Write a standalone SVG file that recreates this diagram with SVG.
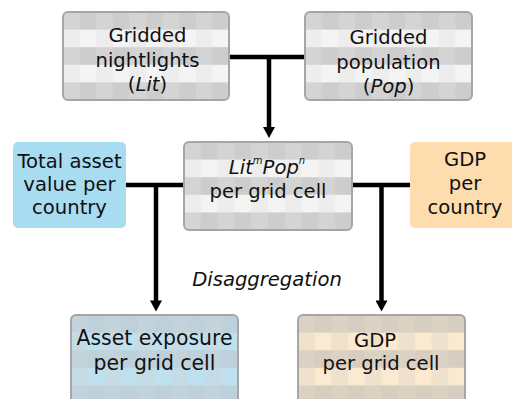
<svg xmlns="http://www.w3.org/2000/svg" width="512" height="399" viewBox="0 0 512 399">
<style>
text{font-family:"DejaVu Sans","Verdana",sans-serif;font-size:19.6px;fill:#111;text-anchor:middle}
.it{font-style:italic}
.big{font-size:20.4px}
.grid{stroke:#a6a6a6;stroke-width:2}
.conn{stroke:#000;stroke-width:4.5;fill:none}
</style>
<defs>
<pattern id="pg" patternUnits="objectBoundingBox" patternContentUnits="objectBoundingBox" width="0.2" height="0.4">
<rect x="0" y="0" width="0.1" height="0.2" fill="#d4d4d4"/>
<rect x="0.1" y="0" width="0.1" height="0.2" fill="#cdcdcd"/>
<rect x="0" y="0.2" width="0.1" height="0.2" fill="#ededed"/>
<rect x="0.1" y="0.2" width="0.1" height="0.2" fill="#f4f4f4"/>
</pattern>
<pattern id="pb" patternUnits="objectBoundingBox" patternContentUnits="objectBoundingBox" width="0.2" height="0.4">
<rect x="0" y="0" width="0.1" height="0.2" fill="#c3d3dc"/>
<rect x="0.1" y="0" width="0.1" height="0.2" fill="#bed0da"/>
<rect x="0" y="0.2" width="0.1" height="0.2" fill="#c5dce7"/>
<rect x="0.1" y="0.2" width="0.1" height="0.2" fill="#bfe0ef"/>
</pattern>
<pattern id="po" patternUnits="objectBoundingBox" patternContentUnits="objectBoundingBox" width="0.2" height="0.4">
<rect x="0" y="0" width="0.1" height="0.2" fill="#dcd2c4"/>
<rect x="0.1" y="0" width="0.1" height="0.2" fill="#d7cdc0"/>
<rect x="0" y="0.2" width="0.1" height="0.2" fill="#efe1cb"/>
<rect x="0.1" y="0.2" width="0.1" height="0.2" fill="#fbe9d0"/>
</pattern>
<marker id="ah" markerUnits="userSpaceOnUse" markerWidth="12" markerHeight="12" refX="0.5" refY="6" orient="auto" viewBox="0 0 11 12">
<path d="M0,0 L11,6 L0,12 Z" fill="#000"/>
</marker>
</defs>
<g id="connectors">
<line class="conn" x1="229" y1="57" x2="305" y2="57"/>
<line class="conn" x1="269" y1="57" x2="269" y2="127.5" marker-end="url(#ah)"/>
<line class="conn" x1="126" y1="185" x2="184" y2="185"/>
<line class="conn" x1="156" y1="185" x2="156" y2="301" marker-end="url(#ah)"/>
<line class="conn" x1="352" y1="185" x2="410" y2="185"/>
<line class="conn" x1="381.5" y1="185" x2="381.5" y2="301" marker-end="url(#ah)"/>
</g>
<g id="nightlights">
<rect class="grid" x="63" y="12" width="166" height="88" rx="5" fill="url(#pg)"/>
<text x="147.5" y="42">Gridded</text>
<text x="147.5" y="67">nightlights</text>
<text x="147.5" y="91">(<tspan class="it">Lit</tspan>)</text>
</g>
<g id="population">
<rect class="grid" x="305" y="12" width="167" height="88" rx="5" fill="url(#pg)"/>
<text x="388.5" y="44">Gridded</text>
<text x="388.5" y="69">population</text>
<text x="388.5" y="93">(<tspan class="it">Pop</tspan>)</text>
</g>
<g id="litpop">
<rect class="grid" x="184" y="142" width="168" height="88" rx="5" fill="url(#pg)"/>
<text x="267" y="174" class="it">Lit<tspan font-size="10" dy="-10">m</tspan><tspan dy="10">Pop</tspan><tspan font-size="10" dy="-10">n</tspan></text>
<text x="268" y="198">per grid cell</text>
</g>
<g id="asset-value">
<rect x="13" y="142" width="113" height="86" rx="5" fill="#a8dcf1"/>
<text x="69.5" y="168">Total asset</text>
<text x="69.5" y="191">value per</text>
<text x="69.5" y="214">country</text>
</g>
<g id="gdp-country">
<rect x="410" y="142" width="114" height="86" rx="5" fill="#fddcae"/>
<text x="465" y="166">GDP</text>
<text x="465" y="190">per</text>
<text x="465" y="214">country</text>
</g>
<g id="disaggregation">
<text x="267" y="286" class="it">Disaggregation</text>
</g>
<g id="asset-exposure">
<rect class="grid" x="71" y="315" width="167" height="88" rx="5" fill="url(#pb)"/>
<text class="big" x="154.5" y="345">Asset exposure</text>
<text class="big" x="154.5" y="370">per grid cell</text>
</g>
<g id="gdp-grid">
<rect class="grid" x="298" y="315" width="167" height="88" rx="5" fill="url(#po)"/>
<text x="375" y="347">GDP</text>
<text x="381" y="370">per grid cell</text>
</g>
</svg>
